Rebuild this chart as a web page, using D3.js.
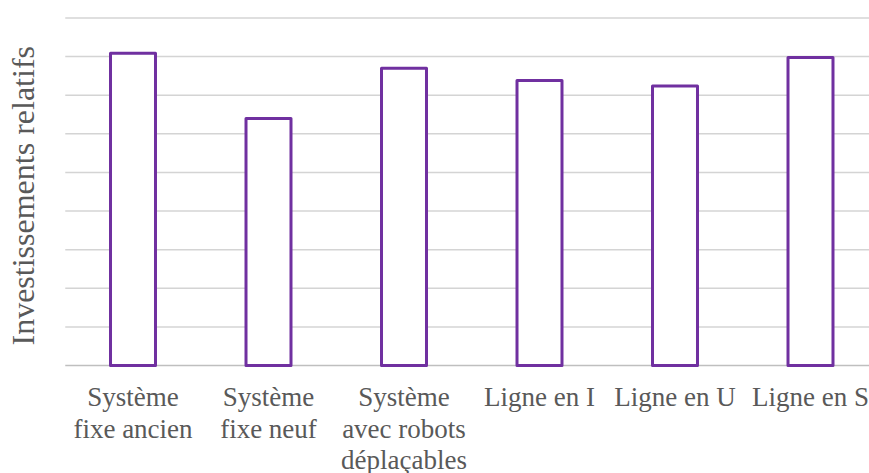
<!DOCTYPE html>
<html>
<head>
<meta charset="utf-8">
<script src="https://cdn.jsdelivr.net/npm/d3@7/dist/d3.min.js"></script>
<style>
  html, body { margin: 0; padding: 0; background: #fff; }
  svg { display: block; }
</style>
</head>
<body>
<script>
// Relative investment per production layout (no numeric scale shown on the axis)
const categories = [
  ["Système", "fixe ancien"],
  ["Système", "fixe neuf"],
  ["Système", "avec robots", "déplaçables"],
  ["Ligne en I"],
  ["Ligne en U"],
  ["Ligne en S"]
];
const values = [8.09, 6.40, 7.70, 7.38, 7.24, 7.98];
const gridTicks = [0, 1, 2, 3, 4, 5, 6, 7, 8, 9];
const axisTitle = "Investissements relatifs";

const SERIF = '"Liberation Serif"';
const W = 869, H = 473;
const margin = { left: 65.25, right: -9.25, top: 18, bottom: 107.5 };

const svg = d3.select("body").append("svg")
  .attr("width", W).attr("height", H);

const x = d3.scaleBand()
  .domain(d3.range(categories.length))
  .range([margin.left, W - margin.right])
  .paddingInner(0.668).paddingOuter(0.334);

const y = d3.scaleLinear()
  .domain([0, 9])
  .range([H - margin.bottom, margin.top]);

// Horizontal gridlines
svg.append("g")
  .selectAll("line")
  .data(gridTicks)
  .join("line")
  .attr("x1", margin.left)
  .attr("x2", W - margin.right)
  .attr("y1", d => y(d))
  .attr("y2", d => y(d))
  .attr("stroke", d => d === 0 ? "#bfbfbf" : "#d4d4d4")
  .attr("stroke-width", 1.5);

// Outlined bars
svg.append("g")
  .selectAll("rect")
  .data(values)
  .join("rect")
  .attr("x", (d, i) => x(i))
  .attr("width", x.bandwidth())
  .attr("y", d => y(d))
  .attr("height", d => y(0) - y(d))
  .attr("fill", "#fff")
  .attr("stroke", "#7030A0")
  .attr("stroke-width", 3)
  .attr("stroke-linejoin", "round");

// Category labels (multi-line, centred under each bar)
svg.append("g")
  .selectAll("text")
  .data(categories)
  .join("text")
  .style("font-family", SERIF)
  .style("font-size", "27px")
  .attr("fill", "#595959")
  .attr("text-anchor", "middle")
  .attr("x", (d, i) => x(i) + x.bandwidth() / 2)
  .attr("y", 406)
  .each(function (lines) {
    const cx = d3.select(this).attr("x");
    d3.select(this).selectAll("tspan")
      .data(lines)
      .join("tspan")
      .attr("x", cx)
      .attr("dy", (l, j) => j === 0 ? 0 : 31.5)
      .text(l => l);
  });

// Vertical axis title
svg.append("text")
  .style("font-family", SERIF)
  .style("font-size", "32px")
  .attr("transform", `translate(34, ${(y(0) + y(9)) / 2 + 4}) rotate(-90)`)
  .attr("text-anchor", "middle")
  .attr("fill", "#595959")
  .text(axisTitle);
</script>
</body>
</html>
